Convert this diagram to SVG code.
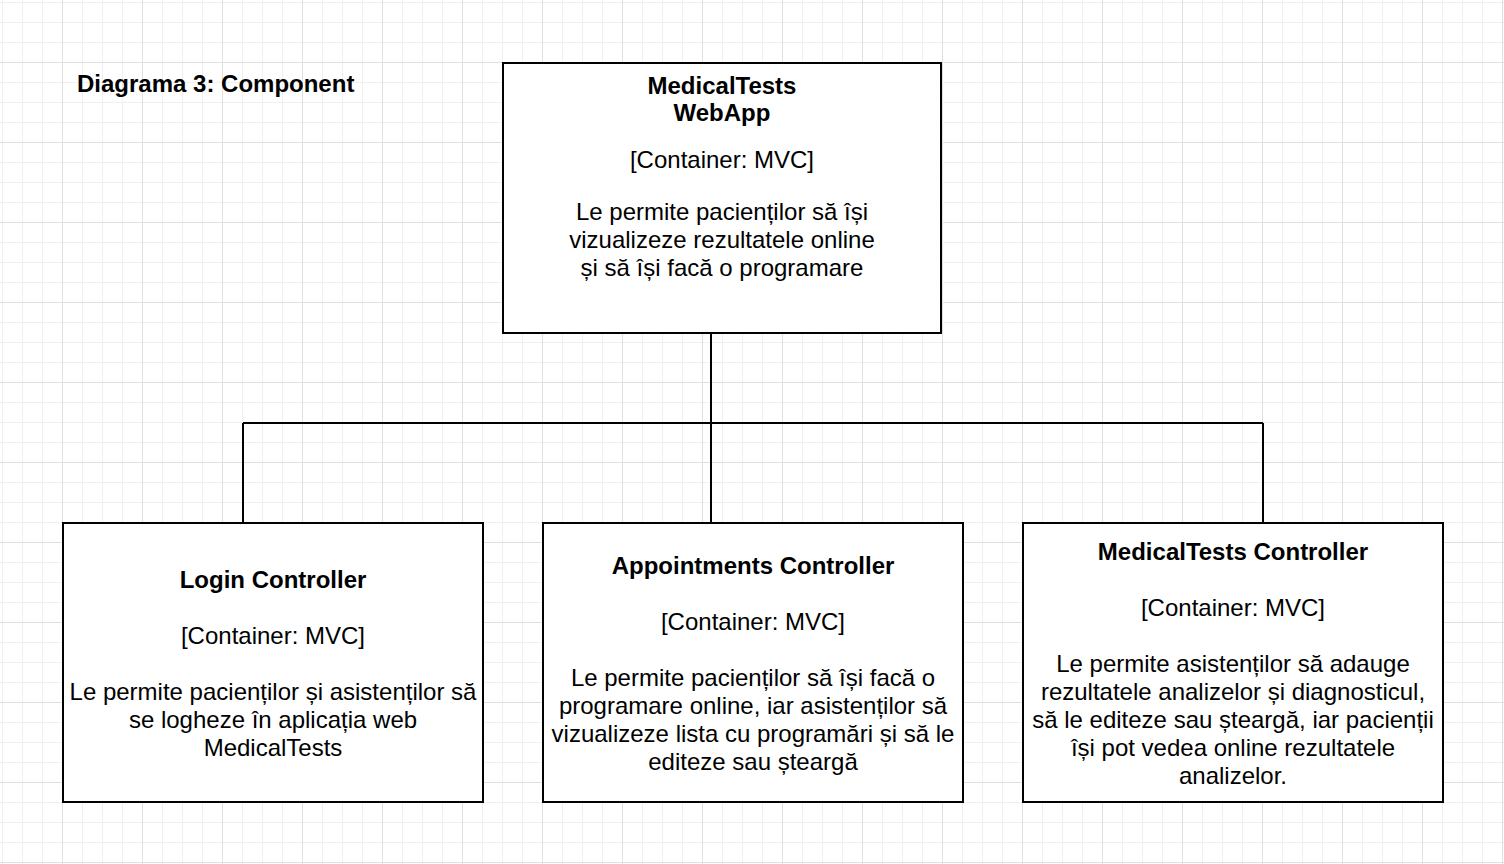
<svg xmlns="http://www.w3.org/2000/svg" width="1504" height="864" viewBox="0 0 1504 864">
<defs>
<pattern id="grid" x="62" y="62" width="80" height="80" patternUnits="userSpaceOnUse">
<path d="M20.5,0V80M40.5,0V80M60.5,0V80M0,20.5H80M0,40.5H80M0,60.5H80" stroke="#f0f0f0" stroke-width="1" fill="none"/>
<path d="M0.5,0V80M0,0.5H80" stroke="#e0e0e0" stroke-width="1" fill="none"/>
</pattern>
</defs>
<style>
.box{fill:#ffffff;stroke:#000000;stroke-width:2}
.t{font-family:"Liberation Sans",Arial,Helvetica,sans-serif;font-size:24px;fill:#000000;text-anchor:middle}
.b{font-weight:bold}
.conn{fill:none;stroke:#000000;stroke-width:2}
</style>
<rect x="0" y="0" width="1504" height="864" fill="#ffffff"/>
<rect x="0" y="0" width="1504" height="864" fill="url(#grid)"/>
<g id="title">
<text class="t b" x="77" y="92" style="text-anchor:start">Diagrama 3: Component</text>
</g>
<g id="connectors">
<path class="conn" d="M711,334V423M243,423H1263M243,423V523M711,423V523M1263,423V523"/>
</g>
<g id="webapp">
<rect class="box" x="503" y="63" width="438" height="270"/>
<text class="t b" x="722" y="93.5">MedicalTests</text>
<text class="t b" x="722" y="120.5">WebApp</text>
<text class="t" x="722" y="167.5">[Container: MVC]</text>
<text class="t" x="722" y="219.5">Le permite pacienților să își</text>
<text class="t" x="722" y="247.5">vizualizeze rezultatele online</text>
<text class="t" x="722" y="275.5">și să își facă o programare</text>
</g>
<g id="login">
<rect class="box" x="63" y="523" width="420" height="279"/>
<text class="t b" x="273" y="587.5">Login Controller</text>
<text class="t" x="273" y="643.5">[Container: MVC]</text>
<text class="t" x="273" y="699.5">Le permite pacienților și asistenților să</text>
<text class="t" x="273" y="727.5">se logheze în aplicația web</text>
<text class="t" x="273" y="755.5">MedicalTests</text>
</g>
<g id="appointments">
<rect class="box" x="543" y="523" width="420" height="279"/>
<text class="t b" x="753" y="573.5">Appointments Controller</text>
<text class="t" x="753" y="629.5">[Container: MVC]</text>
<text class="t" x="753" y="685.5">Le permite pacienților să își facă o</text>
<text class="t" x="753" y="713.5">programare online, iar asistenților să</text>
<text class="t" x="753" y="741.5">vizualizeze lista cu programări și să le</text>
<text class="t" x="753" y="769.5">editeze sau șteargă</text>
</g>
<g id="medicaltests">
<rect class="box" x="1023" y="523" width="420" height="279"/>
<text class="t b" x="1233" y="559.5">MedicalTests Controller</text>
<text class="t" x="1233" y="615.5">[Container: MVC]</text>
<text class="t" x="1233" y="671.5">Le permite asistenților să adauge</text>
<text class="t" x="1233" y="699.5">rezultatele analizelor și diagnosticul,</text>
<text class="t" x="1233" y="727.5">să le editeze sau șteargă, iar pacienții</text>
<text class="t" x="1233" y="755.5">își pot vedea online rezultatele</text>
<text class="t" x="1233" y="783.5">analizelor.</text>
</g>
</svg>
